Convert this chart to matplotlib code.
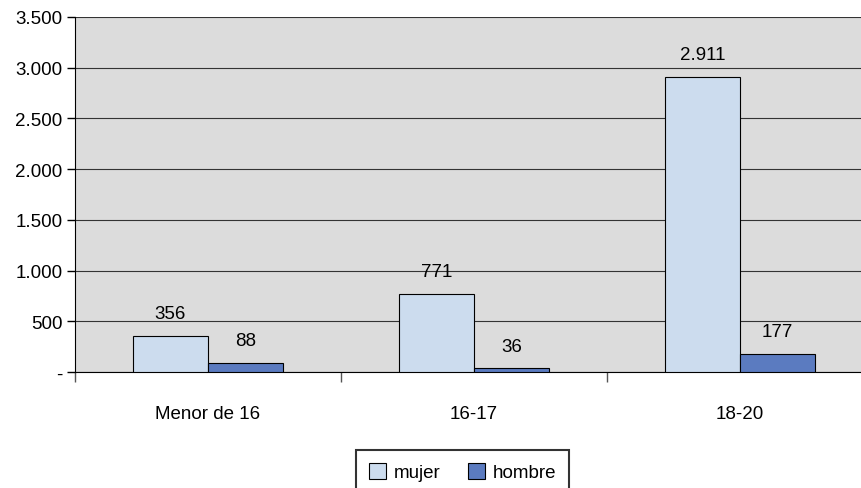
import matplotlib.pyplot as plt
import numpy as np
from matplotlib.ticker import FuncFormatter, FixedLocator

plt.rcParams["font.family"] = ["Liberation Sans", "DejaVu Sans"]

categorias = ["Menor de 16", "16-17", "18-20"]
mujer = [356, 771, 2911]
hombre = [88, 36, 177]
series = ["mujer", "hombre"]


def miles(v, _pos=None):
    if v == 0:
        return "-"
    return f"{int(round(v)):,}".replace(",", ".")


fig = plt.figure(figsize=(8.62, 4.89), dpi=100)
ax = fig.add_axes([75 / 862, 1 - 373 / 489, 798 / 862, 355 / 489])
ax.set_facecolor("#DCDCDC")

x = np.arange(len(categorias))
ancho = 0.282
b1 = ax.bar(x - ancho / 2, mujer, ancho, color="#CCDCEE", edgecolor="black",
            linewidth=0.8, label=series[0], zorder=3)
b2 = ax.bar(x + ancho / 2, hombre, ancho, color="#5B7BC0", edgecolor="black",
            linewidth=0.8, label=series[1], zorder=3)

for barras in (b1, b2):
    for b in barras:
        ax.annotate(miles(b.get_height()), (b.get_x() + b.get_width() / 2, b.get_height()),
                    xytext=(0, 16), textcoords="offset points", ha="center", va="center",
                    fontsize=13.5)

ax.set_xlim(-0.5, 2.5)
ax.set_ylim(0, 3500)
ax.set_yticks(np.arange(0, 3501, 500))
ax.yaxis.set_major_formatter(FuncFormatter(miles))
ax.grid(axis="y", color="#333333", linewidth=0.8, zorder=0)

ax.set_xticks(x)
ax.set_xticklabels(categorias)
ax.tick_params(axis="x", which="major", length=0, pad=24, labelsize=13.5)
ax.xaxis.set_minor_locator(FixedLocator([-0.5, 0.5, 1.5, 2.5]))
ax.tick_params(axis="x", which="minor", length=7, width=1, color="#555555")
ax.tick_params(axis="y", length=6, width=1, labelsize=13.5, pad=3)

for lado in ("top", "right"):
    ax.spines[lado].set_visible(False)
ax.spines["left"].set_color("black")
ax.spines["bottom"].set_color("black")

leg = fig.legend(loc="upper left", bbox_to_anchor=(356 / 862, 1 - 451 / 489), ncol=2,
                 frameon=True, fancybox=False, edgecolor="black", fontsize=13.5,
                 handlelength=0.9, handleheight=0.9, handletextpad=0.4,
                 columnspacing=1.5, borderpad=0.7, borderaxespad=0)
leg.get_frame().set_linewidth(1.5)

fig.savefig("out.png", dpi=100)
